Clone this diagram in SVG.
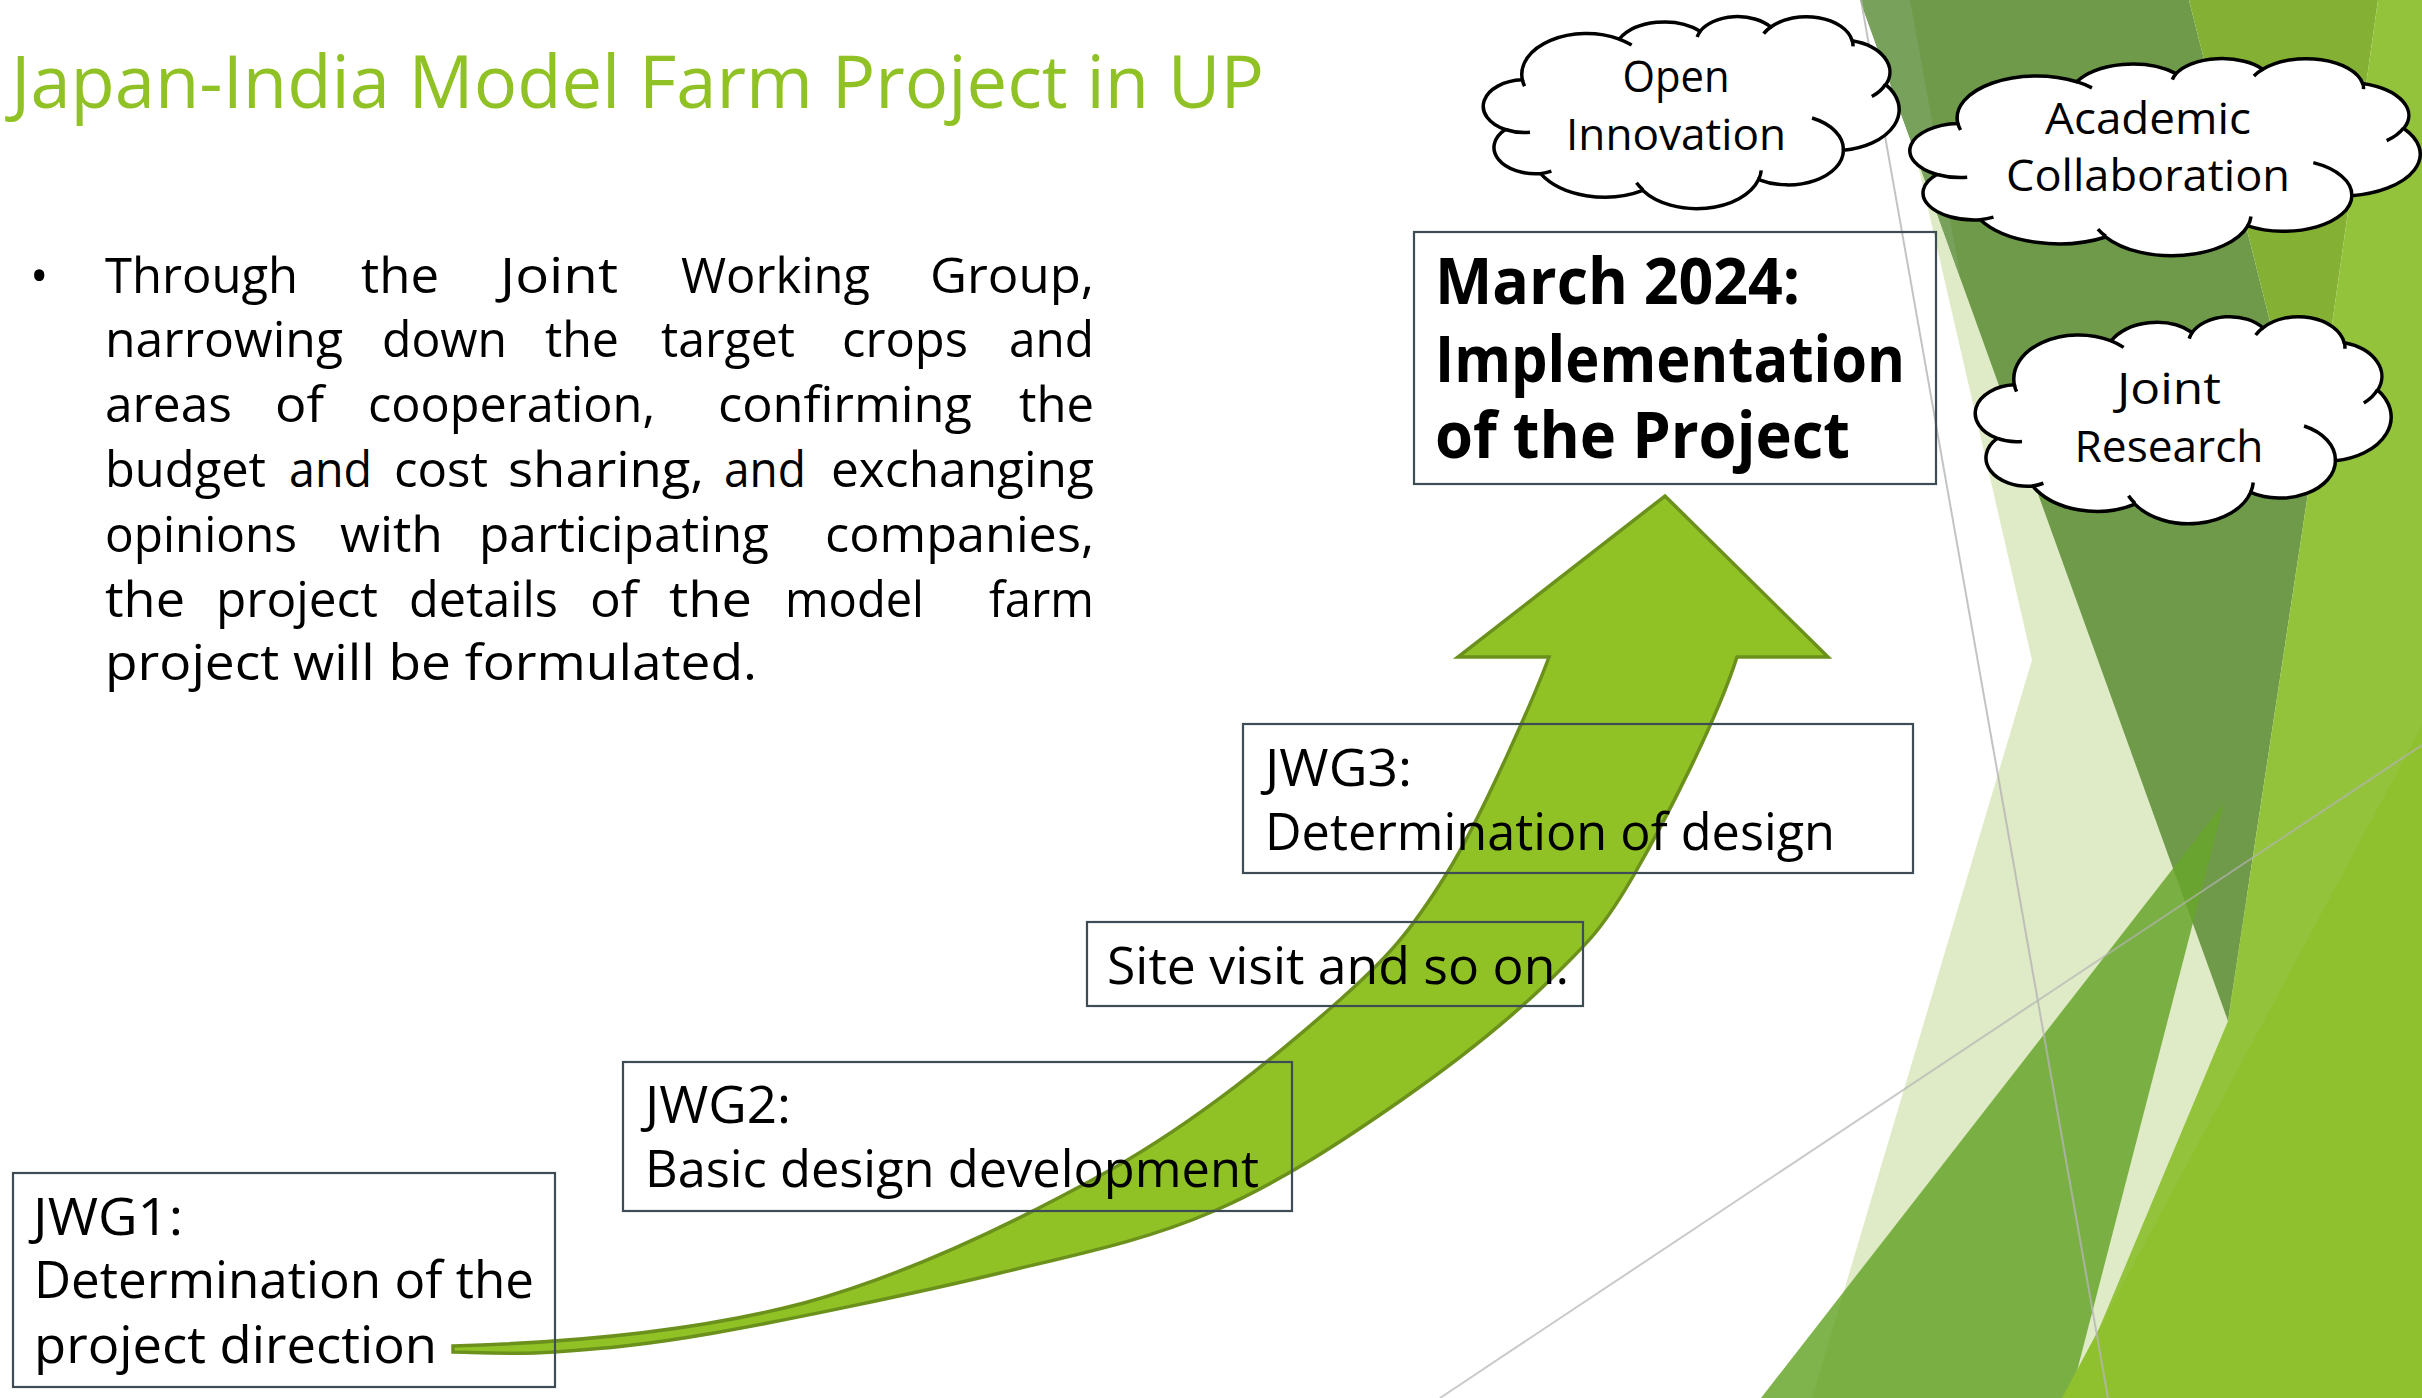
<svg xmlns="http://www.w3.org/2000/svg" width="2422" height="1398" viewBox="0 0 2422 1398">
<defs>
<style>
.t{font-family:"Open Sans","Liberation Sans",sans-serif;fill:#000}
.body{font-size:49px}
.box{fill:none;stroke:#3d4c55;stroke-width:2.2}
.lab{font-size:52px}
.ct{font-size:43px;text-anchor:middle}
.cloud{fill:#fff;stroke:#000;stroke-width:3.5}
.cin{fill:none;stroke:#000;stroke-width:3.5}
</style>
<path id="cloudOut" vector-effect="non-scaling-stroke" d="M3900,14370 A6753,9190 0 0 1 14005,5202 A5333,7267 0 0 1 22455,3429 A4365,5945 0 0 1 29833,2477 A4857,6595 0 0 1 38317,5573 A5333,7273 0 0 1 41818,15457 A6775,9220 0 0 1 37403,30198 A5785,7867 0 0 1 28554,36808 A6752,9215 0 0 1 16479,39262 A7720,10543 0 0 1 5804,35469 A4360,5918 0 0 1 2113,25547 A4345,5945 0 0 1 3900,14370 Z"/>
<path id="cloudIn" vector-effect="non-scaling-stroke" d="M4693,26177 A4345,5945 0 0 1 2113,25547 M6928,34899 A4360,5918 0 0 1 5804,35469 M16478,39090 A6752,9215 0 0 1 15811,37520 M28827,34751 A6752,9215 0 0 1 28554,36808 M34129,22954 A5785,7867 0 0 1 37403,30198 M41798,15354 A5333,7273 0 0 1 40368,18136 M38324,5426 A4857,6595 0 0 1 38394,6837 M29078,3952 A4857,6595 0 0 1 29833,2477 M22141,4720 A4365,5945 0 0 1 22455,3429 M14000,5192 A6753,9190 0 0 1 15304,6549 M4127,15789 A6753,9190 0 0 1 3900,14370"/>
</defs>
<rect width="2422" height="1398" fill="#fff"/>
<g id="background">
<polygon points="1880,0 1930,0 2422,1398 1812,1398 2032,660" fill="#dfeac6"/>
<polygon points="1860,0 2189,0 2310,480 2228,1021" fill="#6f9a4a"/>
<polygon points="1860,0 1910,0 1961,280" fill="#78a15c"/>
<polygon points="2189,0 2378,0 2310,480" fill="#84b133"/>
<polygon points="2378,0 2422,0 2422,1398 2070,1398 2228,1021 2310,480" fill="#93c23b"/>
<polygon points="1761,1398 2224,803 2070,1398" fill="#68a62b" fill-opacity="0.85"/>
<polygon points="2062,1398 2422,726 2422,1398" fill="#8fc02e"/>
<line x1="1861" y1="0" x2="2108" y2="1398" stroke="#b4b4b4" stroke-width="2" stroke-opacity="0.8"/>
<line x1="1440" y1="1398" x2="2422" y2="745" stroke="#b4b4b4" stroke-width="2" stroke-opacity="0.7"/>
</g>
<text id="title" class="t" x="11" y="108" font-size="74" style="fill:#90c226" textLength="1253" lengthAdjust="spacingAndGlyphs">Japan-India Model Farm Project in UP</text>
<g id="bodytext" class="t body">
<text x="30" y="293">•</text>
<text x="105" y="293" textLength="193" lengthAdjust="spacingAndGlyphs">Through</text>
<text x="361" y="293" textLength="78" lengthAdjust="spacingAndGlyphs">the</text>
<text x="500" y="293" textLength="118" lengthAdjust="spacingAndGlyphs">Joint</text>
<text x="681" y="293" textLength="189" lengthAdjust="spacingAndGlyphs">Working</text>
<text x="930" y="293" textLength="164" lengthAdjust="spacingAndGlyphs">Group,</text>
<text x="105" y="357" textLength="238" lengthAdjust="spacingAndGlyphs">narrowing</text>
<text x="382" y="357" textLength="125" lengthAdjust="spacingAndGlyphs">down</text>
<text x="545" y="357" textLength="74" lengthAdjust="spacingAndGlyphs">the</text>
<text x="661" y="357" textLength="134" lengthAdjust="spacingAndGlyphs">target</text>
<text x="842" y="357" textLength="126" lengthAdjust="spacingAndGlyphs">crops</text>
<text x="1009" y="357" textLength="85" lengthAdjust="spacingAndGlyphs">and</text>
<text x="105" y="422" textLength="127" lengthAdjust="spacingAndGlyphs">areas</text>
<text x="275" y="422" textLength="49" lengthAdjust="spacingAndGlyphs">of</text>
<text x="368" y="422" textLength="287" lengthAdjust="spacingAndGlyphs">cooperation,</text>
<text x="718" y="422" textLength="254" lengthAdjust="spacingAndGlyphs">confirming</text>
<text x="1019" y="422" textLength="75" lengthAdjust="spacingAndGlyphs">the</text>
<text x="105" y="487" textLength="161" lengthAdjust="spacingAndGlyphs">budget</text>
<text x="289" y="487" textLength="83" lengthAdjust="spacingAndGlyphs">and</text>
<text x="394" y="487" textLength="94" lengthAdjust="spacingAndGlyphs">cost</text>
<text x="508" y="487" textLength="196" lengthAdjust="spacingAndGlyphs">sharing,</text>
<text x="724" y="487" textLength="82" lengthAdjust="spacingAndGlyphs">and</text>
<text x="831" y="487" textLength="263" lengthAdjust="spacingAndGlyphs">exchanging</text>
<text x="105" y="552" textLength="192" lengthAdjust="spacingAndGlyphs">opinions</text>
<text x="340" y="552" textLength="103" lengthAdjust="spacingAndGlyphs">with</text>
<text x="479" y="552" textLength="290" lengthAdjust="spacingAndGlyphs">participating</text>
<text x="825" y="552" textLength="269" lengthAdjust="spacingAndGlyphs">companies,</text>
<text x="105" y="617" textLength="80" lengthAdjust="spacingAndGlyphs">the</text>
<text x="216" y="617" textLength="162" lengthAdjust="spacingAndGlyphs">project</text>
<text x="409" y="617" textLength="149" lengthAdjust="spacingAndGlyphs">details</text>
<text x="590" y="617" textLength="48" lengthAdjust="spacingAndGlyphs">of</text>
<text x="669" y="617" textLength="83" lengthAdjust="spacingAndGlyphs">the</text>
<text x="785" y="617" textLength="139" lengthAdjust="spacingAndGlyphs">model</text>
<text x="989" y="617" textLength="105" lengthAdjust="spacingAndGlyphs">farm</text>
<text x="105" y="680" textLength="652" lengthAdjust="spacingAndGlyphs">project will be formulated.</text>
</g>
<g id="connectors">
<path id="curved-arrow" d="M453,1346 C560,1343 694,1332 804,1303 C914,1273 1024,1218 1112,1169 C1200,1119 1277,1055 1333,1006 C1389,957 1411,931 1447,873 C1483,815 1537,690 1549,657 L1458,657 L1665,496 L1828,657 L1737,657 C1716,722 1666,819 1635,873 C1604,927 1589,942 1550,980 C1511,1018 1456,1062 1400,1101 C1344,1140 1281,1182 1214,1211 C1147,1240 1083,1253 1000,1273 C917,1293 788,1320 714,1333 C640,1346 597,1349 554,1352 C511,1355 470,1352 453,1352 Z" fill="#90c226" stroke="#6b911c" stroke-width="3.5" stroke-linejoin="miter"/>
</g>
<g id="node-jwg1">
<rect class="box" x="13" y="1173" width="542" height="214"/>
<text class="t lab" x="33" y="1235" textLength="150" lengthAdjust="spacingAndGlyphs">JWG1:</text>
<text class="t lab" x="34" y="1298" textLength="500" lengthAdjust="spacingAndGlyphs">Determination of the</text>
<text class="t lab" x="34" y="1363" textLength="403" lengthAdjust="spacingAndGlyphs">project direction</text>
</g>
<g id="node-jwg2">
<rect class="box" x="623" y="1062" width="669" height="149"/>
<text class="t lab" x="645" y="1123" textLength="146" lengthAdjust="spacingAndGlyphs">JWG2:</text>
<text class="t lab" x="645" y="1187" textLength="614" lengthAdjust="spacingAndGlyphs">Basic design development</text>
</g>
<g id="node-site">
<rect class="box" x="1087" y="922" width="496" height="84"/>
<text class="t lab" x="1107" y="984" textLength="462" lengthAdjust="spacingAndGlyphs">Site visit and so on.</text>
</g>
<g id="node-jwg3">
<rect class="box" x="1243" y="724" width="670" height="149"/>
<text class="t lab" x="1265" y="786" textLength="147" lengthAdjust="spacingAndGlyphs">JWG3:</text>
<text class="t lab" x="1265" y="850" textLength="570" lengthAdjust="spacingAndGlyphs">Determination of design</text>
</g>
<g id="node-march">
<rect class="box" x="1414" y="232" width="522" height="252"/>
<text class="t" x="1435" y="304" font-size="64" font-weight="bold" textLength="365" lengthAdjust="spacingAndGlyphs">March 2024:</text>
<text class="t" x="1435" y="382" font-size="64" font-weight="bold" textLength="470" lengthAdjust="spacingAndGlyphs">Implementation</text>
<text class="t" x="1435" y="458" font-size="64" font-weight="bold" textLength="415" lengthAdjust="spacingAndGlyphs">of the Project</text>
</g>
<g id="cloud-open">
<g transform="translate(1485,16) scale(0.009583,0.004444)"><use href="#cloudOut" class="cloud"/><use href="#cloudIn" class="cin"/></g>
<text class="t ct" x="1676" y="92" textLength="107" lengthAdjust="spacingAndGlyphs">Open</text>
<text class="t ct" x="1676" y="150" textLength="220" lengthAdjust="spacingAndGlyphs">Innovation</text>
</g>
<g id="cloud-academic">
<g transform="translate(1912,58) scale(0.011759,0.00456)"><use href="#cloudOut" class="cloud"/><use href="#cloudIn" class="cin"/></g>
<text class="t ct" x="2148" y="134" textLength="206" lengthAdjust="spacingAndGlyphs">Academic</text>
<text class="t ct" x="2148" y="191" textLength="284" lengthAdjust="spacingAndGlyphs">Collaboration</text>
</g>
<g id="cloud-joint">
<g transform="translate(1977,316) scale(0.009583,0.004792)"><use href="#cloudOut" class="cloud"/><use href="#cloudIn" class="cin"/></g>
<text class="t ct" x="2169" y="404" textLength="104" lengthAdjust="spacingAndGlyphs">Joint</text>
<text class="t ct" x="2169" y="462" textLength="189" lengthAdjust="spacingAndGlyphs">Research</text>
</g>
</svg>
